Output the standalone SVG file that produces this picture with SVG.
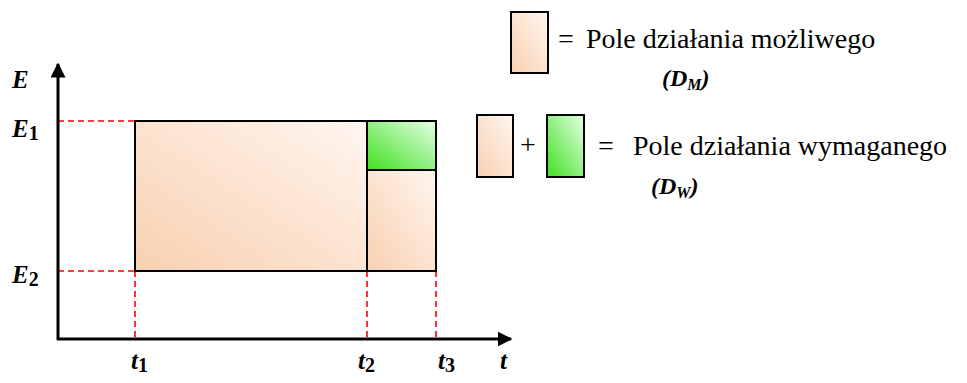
<svg xmlns="http://www.w3.org/2000/svg" width="967" height="383" viewBox="0 0 967 383">
<defs>
<linearGradient id="peach" x1="0" y1="1" x2="1" y2="0">
<stop offset="0" stop-color="#F8D0B0"/>
<stop offset="1" stop-color="#FFF6F0"/>
</linearGradient>
<linearGradient id="green" x1="0" y1="1" x2="1" y2="0">
<stop offset="0" stop-color="#3FE020"/>
<stop offset="1" stop-color="#E6FFE6"/>
</linearGradient>
<marker id="arr" viewBox="0 0 10 10" refX="9" refY="5" markerWidth="5" markerHeight="5" markerUnits="strokeWidth" orient="auto">
<path d="M0,0 L10,5 L0,10 Z" fill="#000"/>
</marker>
</defs>
<g id="connectors" fill="none">
<g stroke="#FF0000" stroke-width="1.6" stroke-dasharray="6,4">
<line x1="58" y1="121" x2="135" y2="121"/>
<line x1="58" y1="271" x2="135" y2="271"/>
<line x1="135" y1="271" x2="135" y2="337"/>
<line x1="367" y1="271" x2="367" y2="337"/>
<line x1="436" y1="271" x2="436" y2="337"/>
</g>
<g stroke="#000" stroke-width="3">
<line x1="58" y1="340" x2="58" y2="64" marker-end="url(#arr)"/>
<line x1="57" y1="339" x2="511" y2="339" marker-end="url(#arr)"/>
</g>
</g>
<g id="main-field">
<rect x="135" y="121" width="232" height="150" fill="url(#peach)" stroke="#000" stroke-width="2"/>
</g>
<g id="small-field">
<rect x="367" y="170" width="69" height="101" fill="url(#peach)" stroke="#000" stroke-width="2"/>
</g>
<g id="green-field">
<rect x="367" y="121" width="69" height="49" fill="url(#green)" stroke="#000" stroke-width="2"/>
</g>
<g id="axis-labels" font-family="Liberation Serif" font-weight="bold" font-style="italic" font-size="25">
<text x="12" y="88">E</text>
<text x="12" y="137">E<tspan font-style="normal" font-size="20" dy="3">1</tspan></text>
<text x="12" y="283">E<tspan font-style="normal" font-size="20" dy="3">2</tspan></text>
<text x="131" y="369">t<tspan font-style="normal" font-size="20" dy="3">1</tspan></text>
<text x="358" y="369">t<tspan font-style="normal" font-size="20" dy="3">2</tspan></text>
<text x="438" y="369">t<tspan font-style="normal" font-size="20" dy="3">3</tspan></text>
<text x="500" y="369">t</text>
</g>
<g id="legend-possible" font-family="Liberation Serif">
<rect x="511" y="12" width="37" height="61" fill="url(#peach)" stroke="#000" stroke-width="2"/>
<text x="558" y="48" font-size="28">=</text>
<text x="586" y="48" font-size="28">Pole działania możliwego</text>
<text x="662" y="86" font-size="24" font-weight="bold" font-style="italic">(D<tspan font-size="16" dy="4">M</tspan><tspan dy="-4">)</tspan></text>
</g>
<g id="legend-required" font-family="Liberation Serif">
<rect x="477" y="115" width="36" height="62" fill="url(#peach)" stroke="#000" stroke-width="2"/>
<text x="520" y="154" font-size="28">+</text>
<rect x="547" y="115" width="37" height="62" fill="url(#green)" stroke="#000" stroke-width="2"/>
<text x="598" y="155" font-size="28">=</text>
<text x="633" y="155" font-size="28">Pole działania wymaganego</text>
<text x="651" y="194" font-size="24" font-weight="bold" font-style="italic">(D<tspan font-size="16" dy="4">W</tspan><tspan dy="-4">)</tspan></text>
</g>
</svg>
